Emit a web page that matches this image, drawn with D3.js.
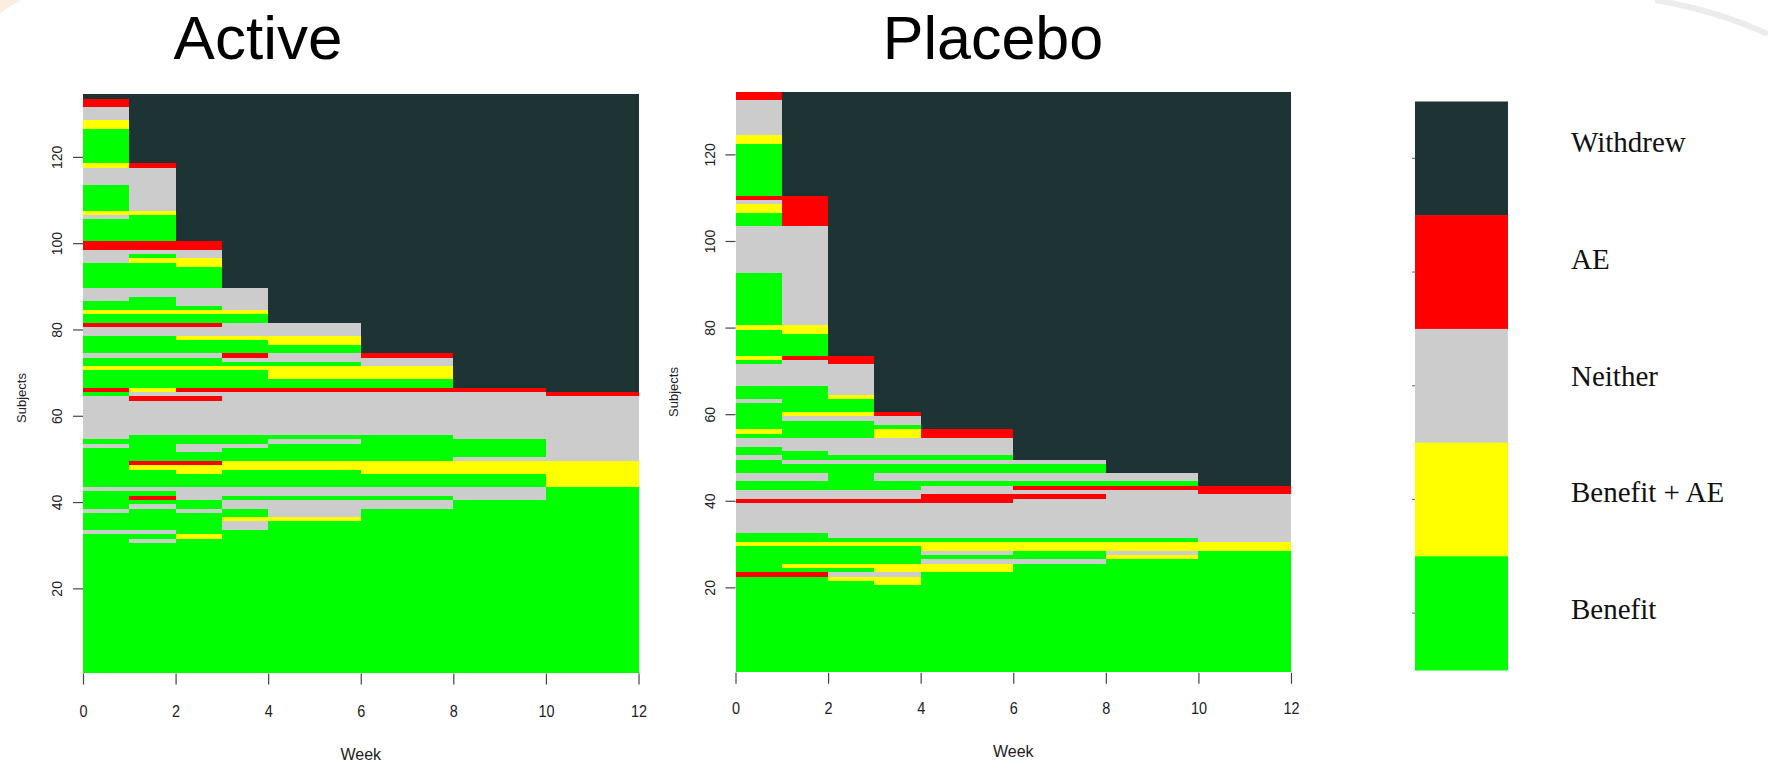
<!DOCTYPE html>
<html><head><meta charset="utf-8">
<script src="https://cdn.jsdelivr.net/npm/d3@7"></script>
<style>
html,body{margin:0;padding:0;background:#fff;}
svg{display:block;}
</style></head>
<body>
<svg id="chart" width="1768" height="764"></svg>
<script>
// ---------------- data ----------------
const stateNames = ["Benefit", "Benefit + AE", "Neither", "AE", "Withdrew"];
const stateCodes = ["B", "Y", "N", "A", "W"];
const weekBreaks = [0, 1, 2, 3, 4, 6, 8, 10, 12];   // visit intervals
const weekTicks = [0, 2, 4, 6, 8, 10, 12];
const subjectTicks = [20, 40, 60, 80, 100, 120];
const nSubjects = 134;
const panelTitles = ["Active", "Placebo"];

// state runs per interval, listed from the top subject (134) downward: code + count
const activeRuns = [
  "W1 A2 N3 Y2 B8 Y1 N4 B6 Y1 N1 B5 A2 N3 B6 N3 B2 Y1 B2 A1 N2 B4 N1 B2 Y1 B4 A1 B1 N10 B1 N1 B9 N1 B4 N1 B4 N1 B32",
  "W16 A1 N10 Y1 B6 A2 N1 B1 Y1 B6 N2 B3 Y1 B2 A1 N2 B4 N1 B2 Y1 B4 Y1 N1 A1 N8 B6 A1 Y1 B4 N1 B1 A1 B1 N1 B5 N1 B1 N1 B30",
  "W34 A2 N2 Y2 B5 N4 B1 Y1 B2 A1 N2 Y1 B3 N1 B2 Y1 B4 A1 N1 A1 N8 B2 N2 B2 A1 Y2 B3 N3 B2 N1 B5 Y1 B31",
  "W45 N5 Y1 B2 N3 Y1 B3 A1 N1 B1 Y1 B4 A1 N10 B2 N1 B3 Y2 B4 N2 B1 N2 B2 Y1 N2 B33",
  "W53 N3 Y2 B2 N2 B1 Y3 B2 A1 N10 B1 N1 B4 Y2 B4 N2 B1 N4 Y1 B35",
  "W60 A1 N2 Y3 B2 A1 N10 B6 Y3 B3 N2 B1 N2 B38",
  "W68 A1 N11 B4 N1 Y3 B3 N3 B40",
  "W69 A1 N15 Y6 B43"
];
const placeboRuns = [
  "A2 N8 Y2 B12 A1 N1 Y2 B3 N11 B12 Y1 B6 Y1 B1 N5 B3 N1 B6 Y1 B1 N2 B2 N1 B3 N2 B2 N2 A1 N7 B2 Y1 B6 A1 B22",
  "W24 A7 N23 Y2 B5 A1 N6 B6 Y1 N1 B4 N3 B2 N1 B2 N2 B2 N2 A1 N7 B2 Y1 B4 Y1 B1 A1 B22",
  "W61 A2 N7 Y1 B3 Y1 N1 B4 N4 B1 N1 B6 N2 A1 N8 B1 Y1 B4 Y1 B1 N1 Y1 B21",
  "W74 A1 N2 B1 Y2 N4 B1 N1 B2 N2 B2 N2 A1 N8 B1 Y1 B4 Y2 N1 Y2 B20",
  "W78 A2 N4 B1 N1 B2 N2 B1 N2 A2 N8 B1 Y2 N1 B1 N1 Y2 B23",
  "W85 N1 B2 N2 B1 A1 N1 A1 N9 B1 Y2 B2 N1 B25",
  "W88 N2 B1 A1 N11 B1 Y2 N1 Y1 B26",
  "W91 A2 N11 Y2 B28"
];

// ---------------- styles / layout ----------------
const stateColors = ["#00ff00", "#ffff00", "#cccccc", "#ff0000", "#1e3334"];
const color = d3.scaleOrdinal().domain(stateCodes).range(stateColors);

const panels = [
  {title: panelTitles[0], runs: activeRuns, x0: 83, x1: 638.5, yBot: 672.5, yTop: 94.3,
   titleX: 258, titleSize: 62, weekY: 760, subjX: 26, subjY: 398, yLabOff: -21, xLabY: 717},
  {title: panelTitles[1], runs: placeboRuns, x0: 735.5, x1: 1291, yBot: 671.8, yTop: 91.6,
   titleX: 993, titleSize: 61, weekY: 757, subjX: 678, subjY: 392, yLabOff: -20.5, xLabY: 714}
];

const svg = d3.select("#chart");
const sans = "'Liberation Sans', Arial, Helvetica, sans-serif";
const serif = "'Liberation Serif', 'Times New Roman', serif";

// faint slide decorations
svg.append("path").attr("d", "M1655,0 Q1715,10 1768,34").attr("fill", "none")
  .attr("stroke", "#ececec").attr("stroke-width", 6);
svg.append("path").attr("d", "M0,0 L22,0 Q8,6 0,14 Z").attr("fill", "#fbeee0");

function parseRuns(str) {
  return str.trim().split(/\s+/).map(t => ({code: t[0], n: +t.slice(1)}));
}

panels.forEach(p => {
  const x = d3.scaleLinear().domain([0, 12]).range([p.x0, p.x1]);
  const y = d3.scaleLinear().domain([0.5, nSubjects + 0.5]).range([p.yBot, p.yTop]);
  const g = svg.append("g");

  const cells = [];
  p.runs.forEach((s, i) => {
    let top = nSubjects;
    parseRuns(s).forEach(r => {
      cells.push({i, hi: top, lo: top - r.n + 1, code: r.code});
      top -= r.n;
    });
  });

  g.selectAll("rect.cell").data(cells).join("rect").attr("class", "cell")
    .attr("x", d => Math.round(x(weekBreaks[d.i])))
    .attr("width", d => Math.round(x(weekBreaks[d.i + 1])) - Math.round(x(weekBreaks[d.i])))
    .attr("y", d => Math.round(y(d.hi + 0.5)))
    .attr("height", d => Math.round(y(d.lo - 0.5)) - Math.round(y(d.hi + 0.5)))
    .attr("fill", d => color(d.code));

  // x axis
  const xa = g.append("g").attr("transform", `translate(0,${p.yBot + 1})`)
    .call(d3.axisBottom(x).tickValues(weekTicks).tickSize(11).tickFormat(d3.format("d")));
  xa.select(".domain").remove();
  xa.selectAll(".tick line").attr("stroke", "#444").attr("stroke-width", 1.2);
  xa.selectAll(".tick text").attr("y", p.xLabY - p.yBot - 1).attr("dy", 0)
    .attr("font-family", sans).attr("font-size", 17).attr("fill", "#222")
    .attr("transform", "scale(0.85,1)");

  // y axis
  const ya = g.append("g").attr("transform", `translate(${p.x0},0)`)
    .call(d3.axisLeft(y).tickValues(subjectTicks).tickSize(10).tickFormat(d3.format("d")));
  ya.select(".domain").remove();
  ya.selectAll(".tick line").attr("stroke", "#444").attr("stroke-width", 1.2);
  ya.selectAll(".tick text").attr("x", 0).attr("y", p.yLabOff).attr("dy", 0)
    .attr("text-anchor", "middle").attr("transform", "rotate(-90)")
    .attr("font-family", sans).attr("font-size", 14).attr("fill", "#222");

  // labels
  svg.append("text").attr("x", (p.x0 + p.x1) / 2).attr("y", p.weekY)
    .attr("text-anchor", "middle").attr("font-family", sans).attr("font-size", 16)
    .attr("fill", "#222").text("Week");
  svg.append("text").attr("transform", `translate(${p.subjX},${p.subjY}) rotate(-90)`)
    .attr("text-anchor", "middle").attr("font-family", sans).attr("font-size", 13)
    .attr("fill", "#222").text("Subjects");
  svg.append("text").attr("x", p.titleX).attr("y", 58.5)
    .attr("text-anchor", "middle").attr("font-family", sans).attr("font-size", p.titleSize)
    .attr("fill", "#000").text(p.title);
});

// legend
const legendOrder = stateNames.slice().reverse();
const ly = d3.scaleBand().domain(legendOrder).range([101.5, 670]);
const lg = svg.append("g");
lg.selectAll("rect").data(legendOrder).join("rect")
  .attr("x", 1415).attr("width", 93)
  .attr("y", d => ly(d)).attr("height", ly.bandwidth() + 0.5)
  .attr("fill", d => color(stateCodes[stateNames.indexOf(d)]));
lg.selectAll("line").data(legendOrder).join("line")
  .attr("x1", 1412).attr("x2", 1415)
  .attr("y1", d => ly(d) + ly.bandwidth() / 2).attr("y2", d => ly(d) + ly.bandwidth() / 2)
  .attr("stroke", "#666").attr("stroke-width", 1);
const lyText = d3.scalePoint().domain(legendOrder).range([152, 619]);
lg.selectAll("text").data(legendOrder).join("text")
  .attr("x", 1571).attr("y", d => lyText(d))
  .attr("font-family", serif).attr("font-size", 29).attr("fill", "#111")
  .text(d => d);
</script>
</body></html>
